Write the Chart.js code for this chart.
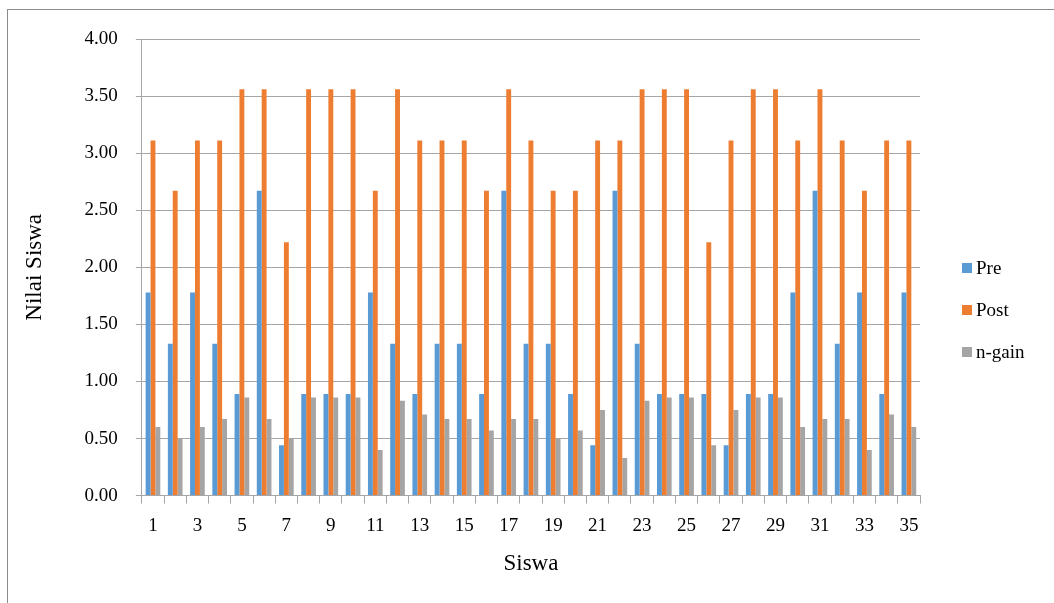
<!DOCTYPE html>
<html>
<head>
<meta charset="utf-8">
<script src="https://cdn.jsdelivr.net/npm/chart.js@4.4.0/dist/chart.umd.min.js"></script>
<style>
  html,body{margin:0;padding:0;background:#fff;}
  #wrap{position:relative;width:1054px;height:603px;overflow:hidden;}
  #frame{position:absolute;left:7px;top:9px;width:1100px;height:700px;border:1px solid #8c8c8c;box-sizing:border-box;}
  #c{position:absolute;left:0;top:0;}
  #legend{position:absolute;left:962px;top:247px;font-family:'Liberation Serif','Times New Roman',serif;font-size:19px;color:#000;}
  #legend div{height:42px;display:flex;align-items:center;}
  #legend span.b{display:inline-block;width:10px;height:10px;margin-right:4px;}
</style>
</head>
<body>
<div id="wrap">
  <div id="frame"></div>
  <canvas id="c" width="1054" height="603"></canvas>
  <div id="legend"></div>
</div>
<script>
// students 1..35
const siswa = Array.from({length:35},(_,i)=>String(i+1));
const pre = [1.78,1.33,1.78,1.33,0.89,2.67,0.44,0.89,0.89,0.89,
             1.78,1.33,0.89,1.33,1.33,0.89,2.67,1.33,1.33,0.89,
             0.44,2.67,1.33,0.89,0.89,0.89,0.44,0.89,0.89,1.78,
             2.67,1.33,1.78,0.89,1.78];
const post = [3.11,2.67,3.11,3.11,3.56,3.56,2.22,3.56,3.56,3.56,
              2.67,3.56,3.11,3.11,3.11,2.67,3.56,3.11,2.67,2.67,
              3.11,3.11,3.56,3.56,3.56,2.22,3.11,3.56,3.56,3.11,
              3.56,3.11,2.67,3.11,3.11];
const ngain = [0.60,0.50,0.60,0.67,0.86,0.67,0.50,0.86,0.86,0.86,
               0.40,0.83,0.71,0.67,0.67,0.57,0.67,0.67,0.50,0.57,
               0.75,0.33,0.83,0.86,0.86,0.44,0.75,0.86,0.86,0.60,
               0.67,0.67,0.40,0.71,0.60];
const yTicks = [0,0.5,1,1.5,2,2.5,3,3.5,4];

const SERIF = "'Liberation Serif','Times New Roman',serif";
const GRID = '#a6a6a6';
const series = [
  {label:'Pre', data:pre, color:'#5b9bd5'},
  {label:'Post', data:post, color:'#ed7d31'},
  {label:'n-gain', data:ngain, color:'#a5a5a5'}
];

new Chart(document.getElementById('c'),{
  type:'bar',
  data:{labels:siswa,datasets:series.map(s=>({
    label:s.label,data:s.data,backgroundColor:s.color,borderWidth:0,
    categoryPercentage:0.66,barPercentage:1
  }))},
  options:{
    responsive:false,animation:false,
    layout:{padding:{left:17,right:134,top:39,bottom:21}},
    plugins:{legend:{display:false},tooltip:{enabled:false}},
    scales:{
      x:{
        grid:{offset:true,drawOnChartArea:false,color:GRID,tickLength:8},
        border:{color:GRID},
        ticks:{autoSkip:false,maxRotation:0,color:'#000',padding:11,
          font:{family:SERIF,size:19},
          callback:(v,i)=>i%2===0?siswa[i]:''},
        title:{display:true,text:'Siswa',color:'#000',font:{family:SERIF,size:23},padding:{top:2}}
      },
      y:{
        min:0,max:4,
        afterBuildTicks:ax=>{ax.ticks=yTicks.map(v=>({value:v}));},
        grid:{color:GRID,tickLength:6},
        border:{color:GRID},
        ticks:{color:'#000',padding:18,font:{family:SERIF,size:19},callback:v=>Number(v).toFixed(2)},
        title:{display:true,text:'Nilai Siswa',color:'#000',font:{family:SERIF,size:23},padding:{bottom:18}}
      }
    }
  }
});

const lg=document.getElementById('legend');
series.forEach(s=>{
  const d=document.createElement('div');
  d.innerHTML=`<span class="b" style="background:${s.color}"></span>${s.label}`;
  lg.appendChild(d);
});
</script>
</body>
</html>
